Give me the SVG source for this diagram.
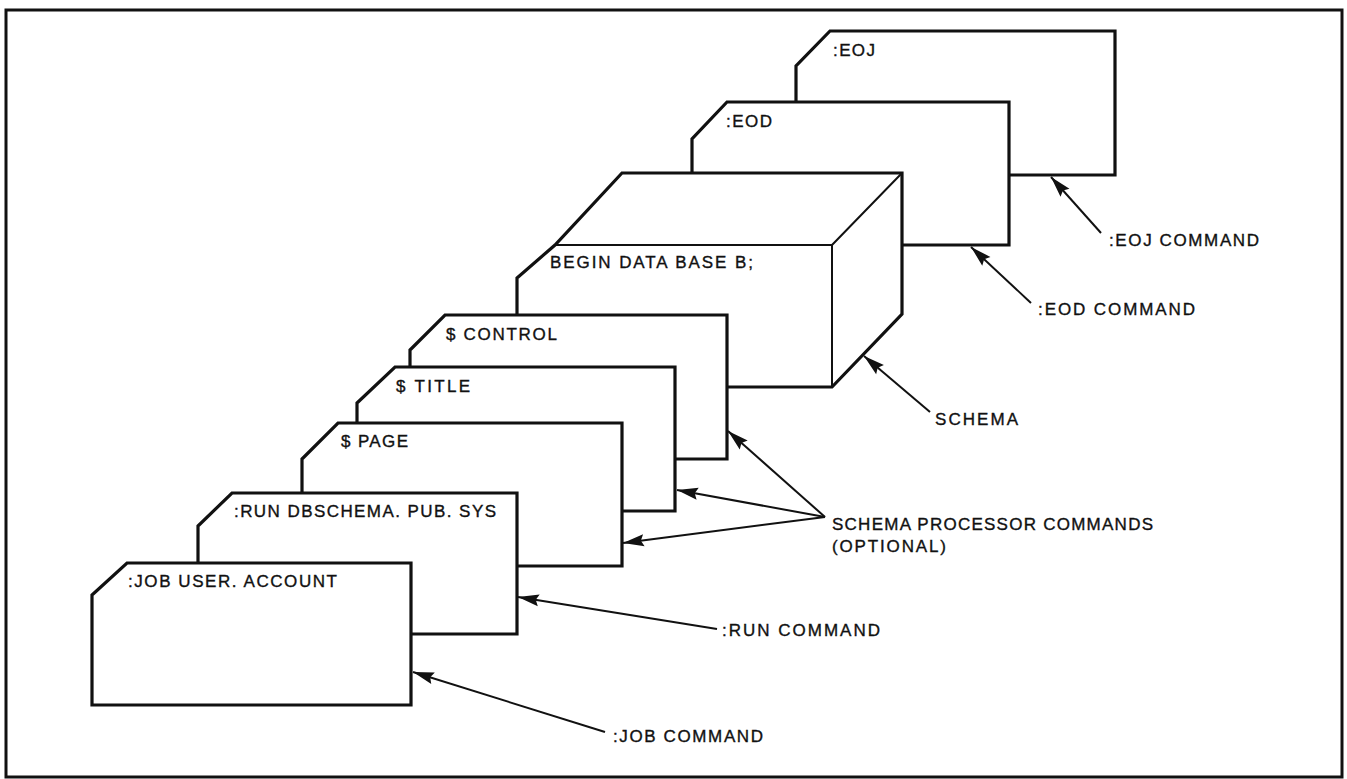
<svg xmlns="http://www.w3.org/2000/svg" width="1347" height="779" viewBox="0 0 1347 779">
<defs>
<style>
.card{fill:#fff;stroke:#111;stroke-width:3.2;stroke-linejoin:miter}
.inner{fill:none;stroke:#111;stroke-width:2}
.conn{fill:none;stroke:#111;stroke-width:2}
.t{font-family:"Liberation Sans",Arial,sans-serif;font-size:17px;fill:#111;stroke:#111;stroke-width:0.35}
</style>
<marker id="ah" viewBox="-23 -7 25 14" refX="0" refY="0" markerWidth="25" markerHeight="14" markerUnits="userSpaceOnUse" orient="auto">
<path d="M0,0 L-21,-6 L-18,0 L-21,6 Z" fill="#111"/>
</marker>
</defs>
<rect width="1347" height="779" fill="#fff"/>
<rect x="6" y="10" width="1336" height="767" fill="none" stroke="#111" stroke-width="3"/>

<g id="eoj">
<path class="card" d="M796,175 L796,66 L830,31 L1115,31 L1115,175 Z"/>
<text class="t" x="833" y="56" textLength="42" lengthAdjust="spacing">:EOJ</text>
</g>
<g id="eod">
<path class="card" d="M692,245 L692,139 L727,102 L1009,102 L1009,245 Z"/>
<text class="t" x="726" y="127" textLength="46" lengthAdjust="spacing">:EOD</text>
</g>
<g id="schema">
<path class="card" d="M517,387 L517,278 L555,245 L622,173 L902,173 L902,314 L832,387 Z"/>
<path class="inner" d="M555,245 L832,245 L832,387 M832,245 L902,173"/>
<text class="t" x="550" y="268" textLength="203" lengthAdjust="spacing">BEGIN DATA BASE B;</text>
</g>
<g id="control">
<path class="card" d="M410,459 L410,350 L445,315 L727,315 L727,459 Z"/>
<text class="t" x="446" y="340" textLength="111" lengthAdjust="spacing">$ CONTROL</text>
</g>
<g id="title">
<path class="card" d="M357,511 L357,403 L395,367 L675,367 L675,511 Z"/>
<text class="t" x="396" y="392" textLength="74" lengthAdjust="spacing">$ TITLE</text>
</g>
<g id="page">
<path class="card" d="M302,566 L302,459 L338,423 L622,423 L622,566 Z"/>
<text class="t" x="341" y="447" textLength="67" lengthAdjust="spacing">$ PAGE</text>
</g>
<g id="run">
<path class="card" d="M198,634 L198,526 L232,493 L517,493 L517,634 Z"/>
<text class="t" x="234" y="517" textLength="262" lengthAdjust="spacing">:RUN DBSCHEMA. PUB. SYS</text>
</g>
<g id="job">
<path class="card" d="M92,705 L92,595 L127,563 L411,563 L411,705 Z"/>
<text class="t" x="128" y="587" textLength="209" lengthAdjust="spacing">:JOB USER. ACCOUNT</text>
</g>

<g id="connectors">
<line class="conn" x1="1101" y1="233" x2="1051" y2="177" marker-end="url(#ah)"/>
<line class="conn" x1="1031" y1="303" x2="971" y2="247" marker-end="url(#ah)"/>
<line class="conn" x1="930" y1="412" x2="864" y2="356" marker-end="url(#ah)"/>
<line class="conn" x1="825" y1="517" x2="728" y2="431" marker-end="url(#ah)"/>
<line class="conn" x1="825" y1="517" x2="677" y2="490" marker-end="url(#ah)"/>
<line class="conn" x1="825" y1="517" x2="623" y2="543" marker-end="url(#ah)"/>
<line class="conn" x1="717" y1="629" x2="518" y2="597" marker-end="url(#ah)"/>
<line class="conn" x1="605" y1="732" x2="413" y2="672" marker-end="url(#ah)"/>
</g>

<g id="labels">
<text class="t" x="1109" y="246" textLength="150" lengthAdjust="spacing">:EOJ COMMAND</text>
<text class="t" x="1038" y="315" textLength="157" lengthAdjust="spacing">:EOD COMMAND</text>
<text class="t" x="935" y="425" textLength="83" lengthAdjust="spacing">SCHEMA</text>
<text class="t" x="832" y="530" textLength="321" lengthAdjust="spacing">SCHEMA PROCESSOR COMMANDS</text>
<text class="t" x="832" y="552" textLength="114" lengthAdjust="spacing">(OPTIONAL)</text>
<text class="t" x="722" y="636" textLength="158" lengthAdjust="spacing">:RUN COMMAND</text>
<text class="t" x="613" y="742" textLength="150" lengthAdjust="spacing">:JOB COMMAND</text>
</g>
</svg>
